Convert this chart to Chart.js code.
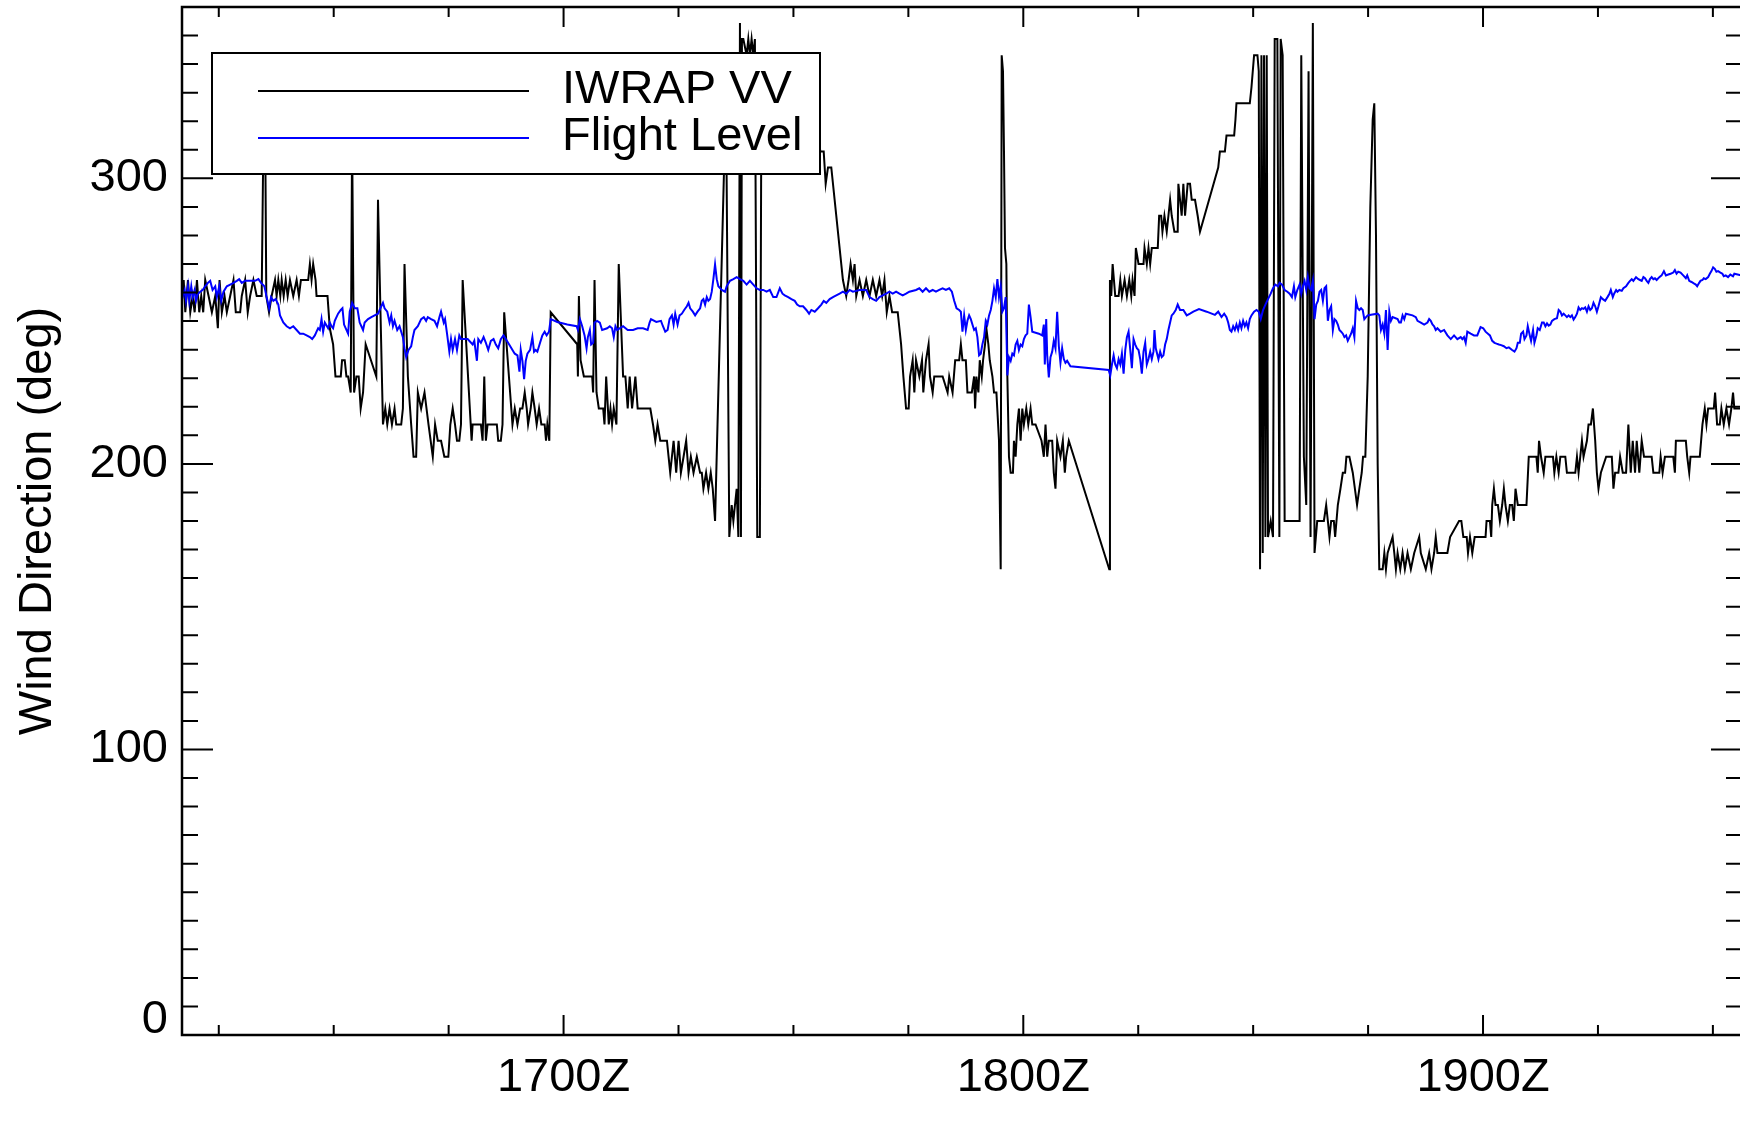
<!DOCTYPE html>
<html>
<head>
<meta charset="utf-8">
<title>Wind Direction</title>
<script src="https://cdn.jsdelivr.net/npm/chart.js@4.4.1/dist/chart.umd.min.js"></script>
<style>
html, body { margin: 0; padding: 0; background: #fff; overflow: hidden; }
#wrap { width: 1740px; height: 1131px; overflow: hidden; }
</style>
</head>
<body>
<div id="wrap"><canvas id="wind" width="1744" height="1131"></canvas></div>
<script>
// minutes after 1600Z, direction in degrees
var iwrapTime = [
    10.20, 10.42, 10.63, 10.98, 11.28, 11.59, 11.85, 12.15, 12.45, 12.71, 12.97, 13.23, 13.67, 14.10, 14.54, 14.88,
    15.10, 15.40, 15.75, 16.05, 16.49, 16.92, 17.22, 17.79, 18.00, 18.44, 18.78, 19.09, 19.52, 19.95, 20.60, 20.85,
    21.05, 21.20, 21.56, 21.90, 22.34, 22.55, 22.77, 23.03, 23.21, 23.47, 23.73, 23.99, 24.29, 24.72, 25.16, 25.46,
    25.72, 26.67, 26.89, 27.11, 27.32, 27.63, 27.76, 29.19, 29.49, 29.92, 30.23, 30.92, 31.09, 31.44, 31.66, 31.88,
    32.22, 32.40, 32.66, 32.96, 33.26, 33.52, 33.83, 34.17, 35.56, 35.78, 36.43, 36.73, 36.99, 37.29, 37.60, 37.94,
    38.16, 38.81, 39.03, 39.24, 39.68, 40.11, 40.42, 40.76, 40.98, 41.41, 41.85, 42.37, 42.93, 43.23, 43.58, 44.01,
    44.44, 44.96, 45.22, 45.53, 45.83, 46.09, 46.39, 46.61, 46.83, 48.00, 48.13, 49.21, 49.43, 49.65, 49.86, 50.08,
    51.29, 51.47, 51.81, 52.03, 52.25, 53.33, 53.63, 53.98, 54.33, 54.63, 54.93, 55.19, 55.37, 55.71, 55.93, 56.23,
    56.49, 56.80, 57.10, 57.53, 57.71, 57.88, 58.14, 58.32, 61.78, 61.87, 62.00, 62.22, 62.65, 63.73, 63.86, 64.04,
    64.30, 64.60, 65.17, 65.34, 65.56, 65.90, 66.12, 66.33, 66.55, 66.90, 67.20, 67.77, 68.07, 68.37, 68.63, 68.94,
    69.37, 69.67, 71.32, 71.67, 71.97, 72.27, 72.62, 73.49, 73.92, 74.36, 74.70, 75.01, 75.31, 75.66, 76.00, 76.31,
    76.61, 76.96, 77.39, 77.82, 78.04, 78.25, 78.60, 78.90, 79.21, 79.47, 79.77, 81.20, 81.63, 81.94, 82.16, 82.37,
    82.59, 82.81, 83.02, 83.15, 83.28, 83.46, 83.89, 84.11, 84.32, 84.54, 84.76, 84.97, 85.28, 85.62, 85.84, 86.49,
    89.96, 93.21, 93.51, 93.95, 94.21, 94.51, 94.94, 96.46, 96.89, 97.20, 97.46, 97.76, 97.98, 98.20, 98.63, 99.06,
    99.50, 99.93, 100.36, 100.80, 101.23, 101.58, 101.88, 102.18, 102.53, 102.88, 103.61, 103.83, 104.05, 104.35, 104.70, 105.04,
    105.22, 105.56, 105.78, 106.00, 106.43, 106.78, 106.95, 107.30, 107.64, 107.82, 108.17, 108.38, 109.47, 110.12, 110.33, 110.77,
    111.11, 111.63, 111.85, 112.06, 112.50, 112.71, 113.28, 113.58, 113.71, 113.88, 114.14, 114.32, 114.58, 114.75, 115.01, 115.18,
    115.44, 115.62, 115.97, 116.18, 116.49, 116.83, 117.05, 117.18, 117.35, 117.48, 117.61, 117.79, 117.92, 118.13, 118.35, 118.65,
    118.78, 119.00, 119.22, 119.43, 119.65, 119.87, 120.08, 120.39, 120.65, 120.95, 121.17, 121.60, 122.38, 122.68, 122.90, 123.12,
    123.33, 123.77, 123.98, 124.20, 124.42, 124.85, 125.16, 125.42, 125.59, 125.94, 131.22, 131.31, 131.48, 131.66, 131.83, 132.00,
    132.44, 132.66, 132.87, 133.22, 133.52, 133.83, 134.09, 134.26, 134.52, 134.69, 135.04, 135.69, 135.82, 136.12, 136.34, 136.56,
    136.77, 137.55, 137.73, 137.99, 138.16, 138.42, 138.72, 138.94, 139.16, 139.37, 139.72, 140.15, 140.24, 140.46, 140.67, 140.89,
    141.11, 141.45, 141.76, 141.98, 142.41, 142.76, 143.06, 145.44, 145.66, 146.31, 146.52, 147.52, 147.69, 147.82, 149.56, 149.78,
    150.12, 150.56, 150.73, 150.90, 151.08, 151.25, 151.42, 151.60, 151.77, 151.94, 152.29, 152.59, 152.81, 153.16, 153.42, 153.59,
    153.85, 154.11, 156.06, 156.28, 156.62, 156.93, 157.23, 157.49, 157.79, 158.01, 158.36, 159.23, 159.53, 159.75, 159.96, 160.18,
    160.53, 160.70, 161.05, 161.39, 161.70, 162.00, 162.17, 162.56, 163.00, 163.56, 163.86, 164.17, 164.34, 164.64, 164.95, 165.29,
    165.60, 165.81, 166.03, 166.25, 166.46, 166.90, 167.12, 167.33, 167.55, 168.20, 168.42, 168.63, 168.85, 169.20, 169.50, 169.80,
    170.15, 170.58, 171.02, 171.67, 171.88, 172.53, 172.97, 173.27, 173.62, 173.83, 174.05, 175.35, 175.70, 176.87, 177.17, 177.43,
    177.87, 178.04, 178.30, 178.60, 178.91, 179.25, 180.33, 180.46, 180.90, 181.07, 181.20, 181.42, 181.63, 181.94, 182.20, 182.50,
    182.72, 182.93, 183.24, 183.50, 183.80, 184.02, 184.24, 184.54, 185.67, 185.97, 186.97, 187.14, 187.31, 187.57, 187.92, 188.14,
    189.13, 189.31, 189.57, 189.87, 190.09, 190.74, 190.95, 192.04, 192.26, 192.47, 192.69, 192.91, 193.12, 193.56, 193.77, 194.08,
    194.34, 194.64, 194.86, 195.07, 195.38, 196.07, 196.81, 197.02, 197.24, 197.67, 197.89, 198.24, 198.67, 198.97, 199.28, 199.54,
    199.84, 200.06, 200.40, 200.71, 201.01, 202.01, 202.23, 203.01, 203.18, 203.44, 203.74, 204.83, 205.04, 205.17, 206.47, 206.65,
    206.91, 207.08, 208.29, 208.64, 208.94, 209.16, 209.38, 210.12, 210.29, 210.55, 210.90, 211.11, 211.42, 211.76, 212.11, 212.41,
    212.63, 212.80, 213.60
];
var iwrapDir = [
    258.8, 264.4, 253.1, 264.4, 253.1, 258.8, 253.1, 264.4, 253.1, 258.8, 253.1, 264.4, 258.8, 253.1, 258.8, 247.5,
    264.4, 253.1, 258.8, 253.1, 258.8, 264.4, 253.1, 253.1, 258.8, 264.4, 253.1, 258.8, 264.4, 258.8, 258.8, 320.6,
    320.6, 258.8, 253.1, 258.8, 264.4, 258.8, 264.4, 258.8, 264.4, 258.8, 264.4, 258.8, 264.4, 258.8, 264.4, 258.8,
    264.4, 264.4, 270.0, 264.4, 270.0, 264.4, 258.8, 258.8, 247.5, 241.9, 230.6, 230.6, 236.3, 236.3, 230.6, 230.6,
    225.0, 315.0, 225.0, 230.6, 230.6, 219.4, 225.0, 241.9, 230.6, 292.5, 213.8, 219.4, 213.8, 219.4, 213.8, 219.4,
    213.8, 213.8, 219.4, 270.0, 230.6, 213.8, 202.5, 202.5, 225.0, 219.4, 225.0, 213.8, 202.5, 213.8, 208.1, 208.1,
    202.5, 202.5, 213.8, 219.4, 213.8, 208.1, 208.1, 213.8, 264.4, 208.1, 213.8, 213.8, 208.1, 230.6, 208.1, 213.8,
    213.8, 208.1, 208.1, 213.8, 253.1, 213.8, 219.4, 213.8, 219.4, 219.4, 225.0, 219.4, 213.8, 219.4, 225.0, 219.4,
    213.8, 219.4, 213.8, 213.8, 208.1, 213.8, 208.1, 253.1, 241.9, 230.6, 258.8, 236.3, 230.6, 230.6, 225.0, 264.4,
    225.0, 219.4, 219.4, 213.8, 230.6, 213.8, 219.4, 213.8, 219.4, 213.8, 270.0, 230.6, 230.6, 219.4, 230.6, 219.4,
    230.6, 219.4, 219.4, 213.8, 208.1, 213.8, 208.1, 208.1, 196.9, 208.1, 196.9, 208.1, 196.9, 202.5, 208.1, 196.9,
    202.5, 196.9, 202.5, 196.9, 196.9, 191.3, 196.9, 191.3, 196.9, 191.3, 180.0, 330.0, 174.4, 185.6, 180.0, 185.6,
    191.3, 174.4, 354.4, 174.4, 348.8, 348.8, 343.1, 348.8, 343.1, 348.8, 343.1, 348.8, 174.4, 174.4, 343.1, 343.1,
    326.3, 315.0, 309.4, 309.4, 298.1, 303.8, 303.8, 264.4, 258.8, 264.4, 270.0, 264.4, 270.0, 258.8, 264.4, 258.8,
    264.4, 258.8, 264.4, 258.8, 264.4, 258.8, 264.4, 253.1, 258.8, 253.1, 253.1, 247.5, 241.9, 230.6, 219.4, 219.4,
    230.6, 236.3, 225.0, 236.3, 230.6, 236.3, 225.0, 236.3, 241.9, 230.6, 225.0, 230.6, 230.6, 225.0, 230.6, 225.0,
    236.3, 236.3, 241.9, 236.3, 236.3, 225.0, 225.0, 230.6, 219.4, 230.6, 225.0, 236.3, 230.6, 236.3, 241.9, 247.5,
    241.9, 236.3, 230.6, 225.0, 225.0, 208.1, 163.1, 343.1, 337.5, 309.4, 275.6, 270.0, 230.6, 202.5, 196.9, 196.9,
    208.1, 202.5, 213.8, 219.4, 208.1, 219.4, 213.8, 219.4, 213.8, 219.4, 213.8, 213.8, 208.1, 202.5, 213.8, 202.5,
    208.1, 208.1, 196.9, 191.3, 208.1, 202.5, 208.1, 196.9, 202.5, 208.1, 163.1, 264.4, 258.8, 270.0, 264.4, 258.8,
    258.8, 264.4, 258.8, 264.4, 258.8, 264.4, 258.8, 264.4, 258.8, 275.6, 270.0, 270.0, 275.6, 270.0, 275.6, 270.0,
    275.6, 275.6, 286.9, 286.9, 281.3, 286.9, 281.3, 286.9, 292.5, 286.9, 281.3, 281.3, 298.1, 292.5, 286.9, 298.1,
    286.9, 298.1, 298.1, 292.5, 292.5, 286.9, 281.3, 303.8, 309.4, 309.4, 315.0, 315.0, 320.6, 326.3, 326.3, 331.9,
    343.1, 343.1, 337.5, 163.1, 343.1, 168.8, 343.1, 174.4, 343.1, 174.4, 180.0, 174.4, 348.8, 348.8, 174.4, 348.8,
    343.1, 180.0, 180.0, 343.1, 202.5, 185.6, 337.5, 174.4, 354.4, 168.8, 180.0, 180.0, 185.6, 180.0, 174.4, 180.0,
    180.0, 174.4, 185.6, 191.3, 196.9, 196.9, 202.5, 202.5, 196.9, 185.6, 191.3, 196.9, 202.5, 202.5, 230.6, 290.0,
    320.6, 326.3, 280.0, 200.0, 163.1, 163.1, 168.8, 163.1, 168.8, 174.4, 168.8, 163.1, 168.8, 163.1, 168.8, 163.1,
    168.8, 163.1, 168.8, 174.4, 168.8, 163.1, 168.8, 163.1, 168.8, 174.4, 168.8, 168.8, 174.4, 180.0, 180.0, 174.4,
    174.4, 168.8, 174.4, 168.8, 174.4, 174.4, 174.4, 180.0, 180.0, 174.4, 185.6, 191.3, 185.6, 185.6, 180.0, 185.6,
    191.3, 185.6, 180.0, 185.6, 185.6, 180.0, 191.3, 185.6, 185.6, 202.5, 202.5, 196.9, 208.1, 202.5, 196.9, 202.5,
    202.5, 196.9, 202.5, 196.9, 202.5, 202.5, 196.9, 196.9, 202.5, 196.9, 202.5, 208.1, 202.5, 208.1, 213.8, 213.8,
    219.4, 208.1, 196.9, 191.3, 196.9, 202.5, 202.5, 191.3, 196.9, 196.9, 202.5, 196.9, 196.9, 213.8, 196.9, 208.1,
    196.9, 208.1, 196.9, 208.1, 202.5, 202.5, 196.9, 196.9, 202.5, 196.9, 202.5, 202.5, 196.9, 208.1, 208.1, 202.5,
    196.9, 202.5, 202.5, 213.8, 219.4, 213.8, 219.4, 219.4, 225.0, 213.8, 213.8, 219.4, 213.8, 219.4, 213.8, 219.4,
    225.0, 219.4, 219.4
];
var flightTime = [
    10.20, 10.55, 10.72, 10.98, 11.15, 11.41, 11.59, 11.85, 12.02, 12.28, 12.58, 12.89, 13.23, 13.58, 13.88, 14.19,
    14.54, 14.75, 15.06, 15.32, 15.62, 16.05, 16.49, 16.92, 17.35, 17.66, 18.00, 18.44, 18.87, 19.30, 19.74, 20.17,
    20.52, 20.95, 21.25, 21.56, 21.82, 22.12, 22.42, 22.77, 22.99, 23.42, 23.86, 24.29, 24.72, 25.16, 25.59, 26.02,
    26.46, 26.89, 27.19, 27.54, 27.76, 27.97, 28.19, 28.41, 28.62, 28.84, 29.27, 29.49, 29.71, 29.92, 30.14, 30.57,
    30.92, 31.14, 31.35, 31.66, 31.88, 32.09, 32.40, 32.74, 33.09, 33.39, 33.61, 33.83, 34.04, 34.48, 34.91, 35.34,
    35.78, 36.21, 36.43, 36.64, 36.99, 37.29, 37.51, 37.73, 37.94, 38.29, 38.59, 38.81, 39.03, 39.24, 39.46, 39.76,
    40.11, 40.33, 40.54, 40.98, 41.41, 41.76, 42.06, 42.28, 42.71, 43.15, 43.49, 43.80, 44.01, 44.36, 44.53, 44.79,
    45.09, 45.31, 45.53, 45.83, 46.09, 46.39, 46.61, 47.48, 48.13, 48.35, 48.69, 48.87, 49.21, 49.56, 49.86, 50.17,
    50.51, 50.86, 51.16, 51.47, 51.81, 52.16, 52.46, 52.90, 53.33, 53.63, 53.98, 54.24, 54.41, 54.63, 54.85, 55.06,
    55.28, 55.63, 55.93, 56.15, 56.36, 56.58, 56.93, 57.23, 57.53, 57.79, 58.10, 58.32, 59.18, 60.48, 61.70, 61.87,
    62.13, 62.43, 62.74, 63.00, 63.17, 63.43, 63.60, 63.86, 64.04, 64.38, 64.73, 65.03, 65.69, 66.03, 66.33, 66.55,
    66.77, 66.99, 67.77, 68.37, 69.07, 69.67, 70.37, 70.97, 71.23, 71.41, 72.10, 72.71, 72.97, 73.27, 73.58, 73.83,
    74.14, 74.36, 74.57, 74.88, 75.14, 75.44, 75.74, 76.09, 76.31, 76.52, 76.87, 77.17, 77.48, 77.82, 78.04, 78.25,
    78.47, 78.69, 78.90, 79.12, 79.34, 79.55, 79.77, 79.99, 80.20, 80.64, 81.07, 81.29, 81.72, 82.16, 82.59, 83.02,
    83.46, 83.89, 84.32, 84.76, 85.19, 85.62, 86.06, 86.49, 86.92, 87.36, 87.79, 88.22, 88.57, 88.87, 89.31, 89.74,
    90.17, 90.48, 90.83, 91.26, 91.69, 92.04, 92.34, 92.78, 93.21, 93.64, 93.95, 94.29, 94.73, 95.16, 95.59, 96.03,
    96.46, 96.89, 97.33, 97.76, 98.63, 99.50, 99.93, 100.36, 100.80, 101.23, 101.66, 102.10, 102.53, 102.96, 103.40, 103.83,
    104.26, 104.70, 105.13, 106.00, 106.43, 106.86, 107.30, 107.73, 108.17, 108.60, 109.03, 109.47, 109.90, 110.33, 110.68, 110.98,
    111.29, 111.63, 111.85, 112.06, 112.28, 112.50, 112.71, 112.93, 113.15, 113.36, 113.58, 113.80, 114.01, 114.23, 114.45, 114.66,
    114.88, 115.10, 115.31, 115.53, 115.75, 115.97, 116.18, 116.40, 116.62, 116.83, 117.05, 117.27, 117.48, 117.70, 117.92, 118.13,
    118.35, 118.57, 118.78, 119.00, 119.22, 119.43, 119.65, 119.87, 120.08, 120.30, 120.52, 120.73, 120.95, 121.17, 122.03, 122.47,
    122.68, 122.81, 122.99, 123.12, 123.33, 123.55, 123.77, 123.98, 124.20, 124.42, 124.64, 124.85, 125.07, 125.29, 125.50, 125.72,
    126.15, 131.14, 131.35, 131.57, 131.79, 132.00, 132.22, 132.44, 132.66, 132.87, 133.09, 133.31, 133.52, 133.74, 133.96, 134.17,
    134.39, 134.61, 134.82, 135.04, 135.26, 135.47, 135.69, 135.91, 136.12, 136.34, 136.56, 136.77, 136.99, 137.12, 137.29, 137.64,
    137.86, 138.07, 138.29, 138.51, 138.72, 138.94, 139.16, 139.37, 139.59, 139.89, 140.15, 140.46, 140.89, 141.33, 141.76, 142.19,
    142.93, 143.93, 145.01, 145.44, 145.87, 146.22, 146.52, 146.74, 146.96, 147.17, 147.39, 147.61, 147.82, 148.04, 148.26, 148.47,
    148.69, 148.91, 149.12, 149.34, 149.56, 149.78, 150.12, 150.43, 150.73, 150.99, 151.29, 151.60, 151.94, 152.29, 152.59, 152.90,
    153.24, 153.46, 153.76, 154.11, 154.46, 154.76, 155.06, 155.32, 155.50, 155.76, 156.06, 156.28, 156.49, 156.71, 156.93, 157.14,
    157.36, 157.58, 157.79, 158.01, 158.23, 158.45, 158.66, 158.88, 159.10, 159.31, 159.53, 159.75, 159.96, 160.18, 160.40, 160.61,
    160.83, 161.05, 161.26, 161.48, 161.70, 161.91, 162.13, 162.35, 162.78, 163.00, 163.21, 163.43, 163.65, 163.86, 164.08, 164.30,
    164.51, 164.73, 164.95, 165.38, 166.25, 166.46, 166.68, 166.90, 167.12, 167.33, 167.55, 167.77, 167.98, 168.20, 168.85, 169.07,
    169.28, 169.50, 169.72, 169.93, 170.80, 171.23, 171.45, 171.88, 172.32, 172.75, 172.97, 173.18, 173.40, 173.62, 173.83, 174.05,
    174.27, 174.48, 174.92, 175.35, 175.79, 176.22, 176.65, 177.09, 177.30, 177.52, 177.74, 177.95, 178.39, 178.82, 179.25, 179.68,
    180.03, 180.33, 180.64, 180.90, 181.20, 181.50, 181.76, 182.07, 182.37, 182.72, 183.06, 183.37, 183.80, 184.11, 184.37, 184.54,
    184.80, 184.97, 185.23, 185.41, 185.67, 185.84, 186.10, 186.27, 186.53, 186.71, 186.97, 187.14, 187.40, 187.70, 187.92, 188.14,
    188.35, 188.57, 188.79, 189.00, 189.31, 189.65, 189.87, 190.09, 190.30, 190.52, 190.74, 190.95, 191.17, 191.39, 191.60, 191.82,
    192.04, 192.26, 192.47, 192.69, 192.91, 193.12, 193.34, 193.56, 193.77, 193.99, 194.21, 194.42, 194.64, 194.86, 195.07, 195.38,
    195.64, 195.94, 196.24, 196.50, 196.68, 196.94, 197.11, 197.37, 197.54, 197.80, 198.11, 198.32, 198.67, 198.97, 199.19, 199.41,
    199.62, 199.97, 200.27, 200.49, 200.71, 200.93, 201.14, 201.36, 201.58, 201.79, 202.01, 202.23, 202.44, 202.66, 203.01, 203.31,
    203.61, 203.87, 204.18, 204.48, 204.83, 205.04, 205.26, 205.48, 205.78, 206.13, 206.47, 206.65, 206.91, 207.21, 207.51, 207.77,
    207.95, 208.21, 208.38, 208.64, 208.81, 209.07, 209.38, 209.60, 209.81, 210.03, 210.25, 210.46, 210.68, 210.98, 211.24, 211.42,
    211.68, 211.98, 212.28, 212.63, 212.80, 213.80
];
var flightDir = [
    257.7, 260.9, 257.1, 262.2, 257.1, 262.2, 258.4, 260.9, 257.1, 259.6, 260.3, 260.9, 262.2, 263.4, 264.1, 260.9,
    262.2, 258.4, 262.2, 257.1, 260.3, 262.2, 262.8, 263.4, 264.1, 264.7, 263.4, 264.1, 264.1, 264.1, 264.1, 264.7,
    263.4, 262.2, 258.4, 254.5, 258.4, 257.1, 257.7, 255.8, 252.0, 249.5, 248.2, 247.5, 248.2, 246.9, 245.6, 245.6,
    245.0, 244.4, 243.7, 245.0, 246.3, 247.5, 246.9, 250.7, 246.3, 249.5, 247.5, 249.5, 248.2, 247.5, 250.1, 252.6,
    253.9, 254.5, 248.8, 246.9, 245.6, 253.3, 256.4, 254.5, 254.5, 249.5, 248.2, 246.9, 249.5, 250.7, 251.4, 252.0,
    252.6, 255.2, 256.4, 254.5, 253.3, 249.5, 252.0, 248.2, 250.1, 246.9, 248.2, 246.3, 244.4, 240.5, 237.4, 239.9,
    241.2, 244.4, 246.9, 248.2, 250.7, 251.4, 250.1, 251.4, 250.7, 250.1, 248.2, 251.4, 253.3, 249.5, 250.7, 245.6,
    239.3, 243.7, 239.9, 243.7, 239.9, 245.0, 243.7, 243.7, 241.8, 243.1, 236.1, 243.7, 242.4, 244.4, 242.4, 239.9,
    243.1, 243.7, 241.8, 240.5, 243.7, 245.0, 243.7, 241.8, 239.9, 238.6, 238.0, 232.3, 239.9, 236.1, 229.7, 236.1,
    238.6, 239.9, 244.4, 239.3, 239.9, 239.3, 242.4, 245.0, 246.3, 245.0, 246.3, 250.7, 249.7, 248.8, 248.2, 246.9,
    250.7, 248.2, 245.0, 240.5, 244.4, 246.9, 241.8, 242.4, 249.5, 250.1, 249.5, 246.9, 247.5, 248.2, 247.5, 244.4,
    248.2, 246.9, 248.2, 246.9, 246.9, 247.5, 247.5, 246.9, 249.5, 250.7, 249.7, 250.1, 248.2, 246.3, 246.9, 250.7,
    252.0, 248.8, 252.6, 248.8, 252.0, 252.6, 253.9, 255.2, 256.4, 254.5, 253.3, 252.0, 253.3, 254.5, 257.1, 257.7,
    255.8, 258.4, 257.1, 257.7, 260.3, 264.7, 269.8, 264.7, 262.2, 260.9, 260.3, 262.2, 264.1, 264.7, 265.4, 264.7,
    264.1, 262.8, 264.1, 262.8, 261.5, 260.9, 260.9, 260.3, 260.9, 258.4, 258.4, 261.5, 259.6, 259.0, 258.4, 257.7,
    257.1, 255.8, 255.2, 255.2, 253.9, 252.6, 253.9, 253.3, 254.5, 255.8, 257.1, 256.4, 257.7, 258.4, 259.0, 259.6,
    260.3, 259.6, 260.9, 260.3, 260.9, 260.9, 258.4, 257.7, 257.1, 258.4, 259.0, 259.6, 260.3, 259.6, 260.3, 259.6,
    259.0, 259.6, 260.3, 260.9, 261.5, 260.3, 261.5, 260.3, 260.9, 260.3, 260.9, 261.5, 260.9, 261.5, 260.3, 257.1,
    254.5, 253.9, 253.3, 246.3, 252.0, 246.9, 250.1, 252.0, 250.7, 248.8, 246.9, 247.5, 244.4, 238.0, 238.6, 241.8,
    244.4, 250.1, 248.8, 252.0, 253.9, 257.1, 261.5, 258.4, 264.7, 258.4, 262.2, 253.3, 254.5, 258.4, 231.0, 237.4,
    236.1, 238.6, 238.0, 241.8, 243.1, 239.9, 241.8, 241.2, 243.7, 245.0, 245.6, 255.8, 251.4, 246.3, 245.6, 245.0,
    248.8, 234.8, 250.7, 238.0, 230.3, 237.4, 239.3, 243.1, 240.5, 253.3, 241.2, 235.4, 240.5, 236.7, 235.4, 236.1,
    234.2, 232.9, 231.0, 234.8, 238.0, 234.8, 233.5, 236.7, 234.8, 238.6, 231.6, 239.9, 244.4, 246.3, 239.9, 233.5,
    243.7, 241.8, 240.5, 239.9, 236.7, 231.6, 239.3, 242.4, 234.8, 236.7, 239.3, 236.7, 239.3, 246.9, 240.5, 236.7,
    239.3, 237.4, 238.0, 241.8, 243.7, 246.9, 249.5, 252.0, 252.6, 253.9, 255.8, 253.9, 253.9, 252.0, 252.6, 253.3,
    254.2, 253.3, 252.2, 253.3, 251.4, 252.6, 251.4, 249.5, 246.9, 246.3, 248.2, 246.9, 248.8, 246.9, 249.5, 247.5,
    250.1, 248.2, 249.5, 247.5, 250.7, 252.0, 253.3, 253.9, 253.3, 250.7, 253.9, 255.8, 257.7, 259.6, 261.5, 262.8,
    262.2, 263.4, 262.8, 260.9, 260.3, 259.6, 258.4, 262.2, 258.4, 260.9, 262.8, 259.6, 262.2, 264.1, 260.9, 265.4,
    261.5, 260.9, 264.1, 250.7, 255.8, 257.1, 260.3, 260.9, 257.1, 261.5, 262.2, 250.1, 253.9, 255.2, 246.9, 250.7,
    250.1, 248.8, 246.9, 246.3, 245.6, 244.4, 245.0, 243.1, 245.6, 247.5, 244.4, 257.1, 254.5, 253.9, 254.5, 253.9,
    250.7, 251.4, 252.0, 252.2, 252.6, 252.0, 246.9, 248.8, 245.6, 253.9, 239.9, 253.3, 250.1, 251.4, 250.7, 249.5,
    249.5, 252.0, 250.7, 252.6, 252.0, 251.4, 250.1, 249.5, 248.8, 249.5, 250.7, 250.1, 248.8, 248.2, 246.9, 247.5,
    246.9, 246.3, 246.9, 245.0, 243.7, 245.0, 243.7, 244.4, 243.7, 244.4, 242.4, 246.3, 245.6, 245.0, 245.0, 247.9,
    247.5, 246.3, 245.6, 245.0, 243.1, 242.4, 242.1, 241.8, 241.6, 241.2, 240.5, 240.8, 239.9, 239.3, 240.5, 242.4,
    242.4, 245.6, 246.3, 243.7, 245.0, 248.2, 245.0, 243.1, 246.9, 242.4, 245.0, 247.5, 246.9, 249.5, 249.5, 248.2,
    249.2, 248.4, 248.8, 250.1, 250.7, 251.0, 253.9, 253.3, 252.0, 252.6, 252.0, 251.4, 252.0, 251.4, 252.0, 250.5,
    251.4, 252.6, 254.8, 253.9, 254.5, 254.3, 254.8, 253.3, 255.2, 253.9, 254.5, 256.4, 255.2, 253.3, 255.2, 258.4,
    257.7, 257.1, 258.4, 259.6, 260.9, 258.4, 259.6, 260.9, 260.3, 260.9, 260.6, 261.5, 262.2, 263.4, 264.1, 264.7,
    264.1, 265.4, 264.7, 264.4, 264.1, 265.4, 265.0, 264.1, 263.4, 264.7, 265.4, 264.7, 265.0, 264.4, 265.4, 266.0,
    267.5, 266.0, 266.3, 266.6, 267.0, 267.9, 266.6, 267.3, 267.0, 266.0, 265.0, 266.0, 264.1, 263.7, 263.2, 262.8,
    262.2, 263.4, 264.1, 264.4, 265.0, 264.7, 265.4, 266.6, 267.5, 268.8, 268.3, 267.3, 267.5, 267.0, 266.6, 265.7,
    266.0, 265.4, 266.3, 265.7, 266.6, 266.0
];
var xTickValues = [60, 120, 180];
var xTickLabels = ["1700Z", "1800Z", "1900Z"];
var yTickValues = [0, 100, 200, 300];

var fontFamily = "'Liberation Sans', Arial, Helvetica, sans-serif";

function toPoints(xs, ys) {
    return xs.map(function (x, i) {
        return { x: x, y: ys[i] };
    });
}

// IDL style inward ticks on all four sides plus the frame
var frameTicks = {
    id: "frameTicks",
    afterDatasetsDraw: function (chart) {
        var ctx = chart.ctx;
        var a = chart.chartArea;
        var xs = chart.scales.x;
        var ys = chart.scales.y;
        ctx.save();
        ctx.strokeStyle = "#000";
        ctx.lineWidth = 2;
        ctx.beginPath();
        for (var m = 15; m < xs.max; m += 15) {
            var px = xs.getPixelForValue(m);
            var len = m % 60 === 0 ? 20 : 10;
            ctx.moveTo(px, a.bottom);
            ctx.lineTo(px, a.bottom - len);
            ctx.moveTo(px, a.top);
            ctx.lineTo(px, a.top + len);
        }
        for (var d = 10; d < ys.max; d += 10) {
            var py = ys.getPixelForValue(d);
            var len2 = d % 100 === 0 ? 31 : 16;
            ctx.moveTo(a.left, py);
            ctx.lineTo(a.left + len2, py);
            ctx.moveTo(a.right, py);
            ctx.lineTo(a.right - len2, py);
        }
        ctx.stroke();
        ctx.lineWidth = 2.5;
        ctx.strokeRect(a.left, a.top, a.right - a.left, a.bottom - a.top);
        ctx.restore();
    },
};

// boxed legend in the upper left of the plot
var boxLegend = {
    id: "boxLegend",
    afterDraw: function (chart) {
        var ctx = chart.ctx;
        var a = chart.chartArea;
        var left = a.left + 30;
        var top = a.top + 46;
        ctx.save();
        ctx.fillStyle = "#fff";
        ctx.fillRect(left, top, 608, 121);
        ctx.strokeStyle = "#000";
        ctx.lineWidth = 2;
        ctx.strokeRect(left, top, 608, 121);
        ctx.font = "47px " + fontFamily;
        ctx.textAlign = "left";
        ctx.textBaseline = "alphabetic";
        chart.data.datasets.forEach(function (ds, i) {
            var ly = top + 38 + i * 47;
            ctx.strokeStyle = ds.borderColor;
            ctx.lineWidth = 2;
            ctx.beginPath();
            ctx.moveTo(left + 46, ly);
            ctx.lineTo(left + 317, ly);
            ctx.stroke();
            ctx.fillStyle = "#000";
            ctx.fillText(ds.label, left + 350, ly + 12);
        });
        ctx.restore();
    },
};

var ctx = document.getElementById("wind");
var windChart = new Chart(ctx, {
    type: "line",
    data: {
        datasets: [
            {
                label: "IWRAP VV",
                data: toPoints(iwrapTime, iwrapDir),
                borderColor: "#000000",
                borderWidth: 2,
                pointRadius: 0,
                tension: 0,
                order: 1,
            },
            {
                label: "Flight Level",
                data: toPoints(flightTime, flightDir),
                borderColor: "#0000ff",
                borderWidth: 2,
                pointRadius: 0,
                tension: 0,
                order: 0,
            },
        ],
    },
    options: {
        responsive: false,
        animation: false,
        devicePixelRatio: 1,
        layout: {
            padding: { top: 7, right: 2, left: 0, bottom: 0 },
        },
        plugins: {
            legend: { display: false },
            tooltip: { enabled: false },
        },
        scales: {
            x: {
                type: "linear",
                min: 10.2,
                max: 213.8,
                grid: { display: false, drawTicks: false },
                border: { display: false },
                afterBuildTicks: function (scale) {
                    scale.ticks = xTickValues.map(function (v) {
                        return { value: v };
                    });
                },
                afterFit: function (scale) {
                    scale.height = 96;
                    scale.paddingLeft = 0;
                    scale.paddingRight = 0;
                },
                ticks: {
                    autoSkip: false,
                    maxRotation: 0,
                    padding: 15,
                    color: "#000",
                    font: { family: fontFamily, size: 47 },
                    callback: function (value) {
                        var i = xTickValues.indexOf(value);
                        return i >= 0 ? xTickLabels[i] : "";
                    },
                },
            },
            y: {
                min: 0,
                max: 360,
                grid: { display: false, drawTicks: false },
                border: { display: false },
                afterBuildTicks: function (scale) {
                    scale.ticks = yTickValues.map(function (v) {
                        return { value: v };
                    });
                },
                afterFit: function (scale) {
                    scale.width = 182;
                    scale.paddingTop = 0;
                    scale.paddingBottom = 0;
                },
                ticks: {
                    padding: 14,
                    color: "#000",
                    font: { family: fontFamily, size: 47, lineHeight: 0.64 },
                    callback: function (value) {
                        // lift the bottom label off the x axis, as the original does
                        return value === 0 ? ["0", ""] : String(value);
                    },
                },
                title: {
                    display: true,
                    text: "Wind Direction (deg)",
                    color: "#000",
                    font: { family: fontFamily, size: 47 },
                    padding: { top: 10, bottom: 0 },
                },
            },
        },
    },
    plugins: [frameTicks, boxLegend],
});
</script>
</body>
</html>
